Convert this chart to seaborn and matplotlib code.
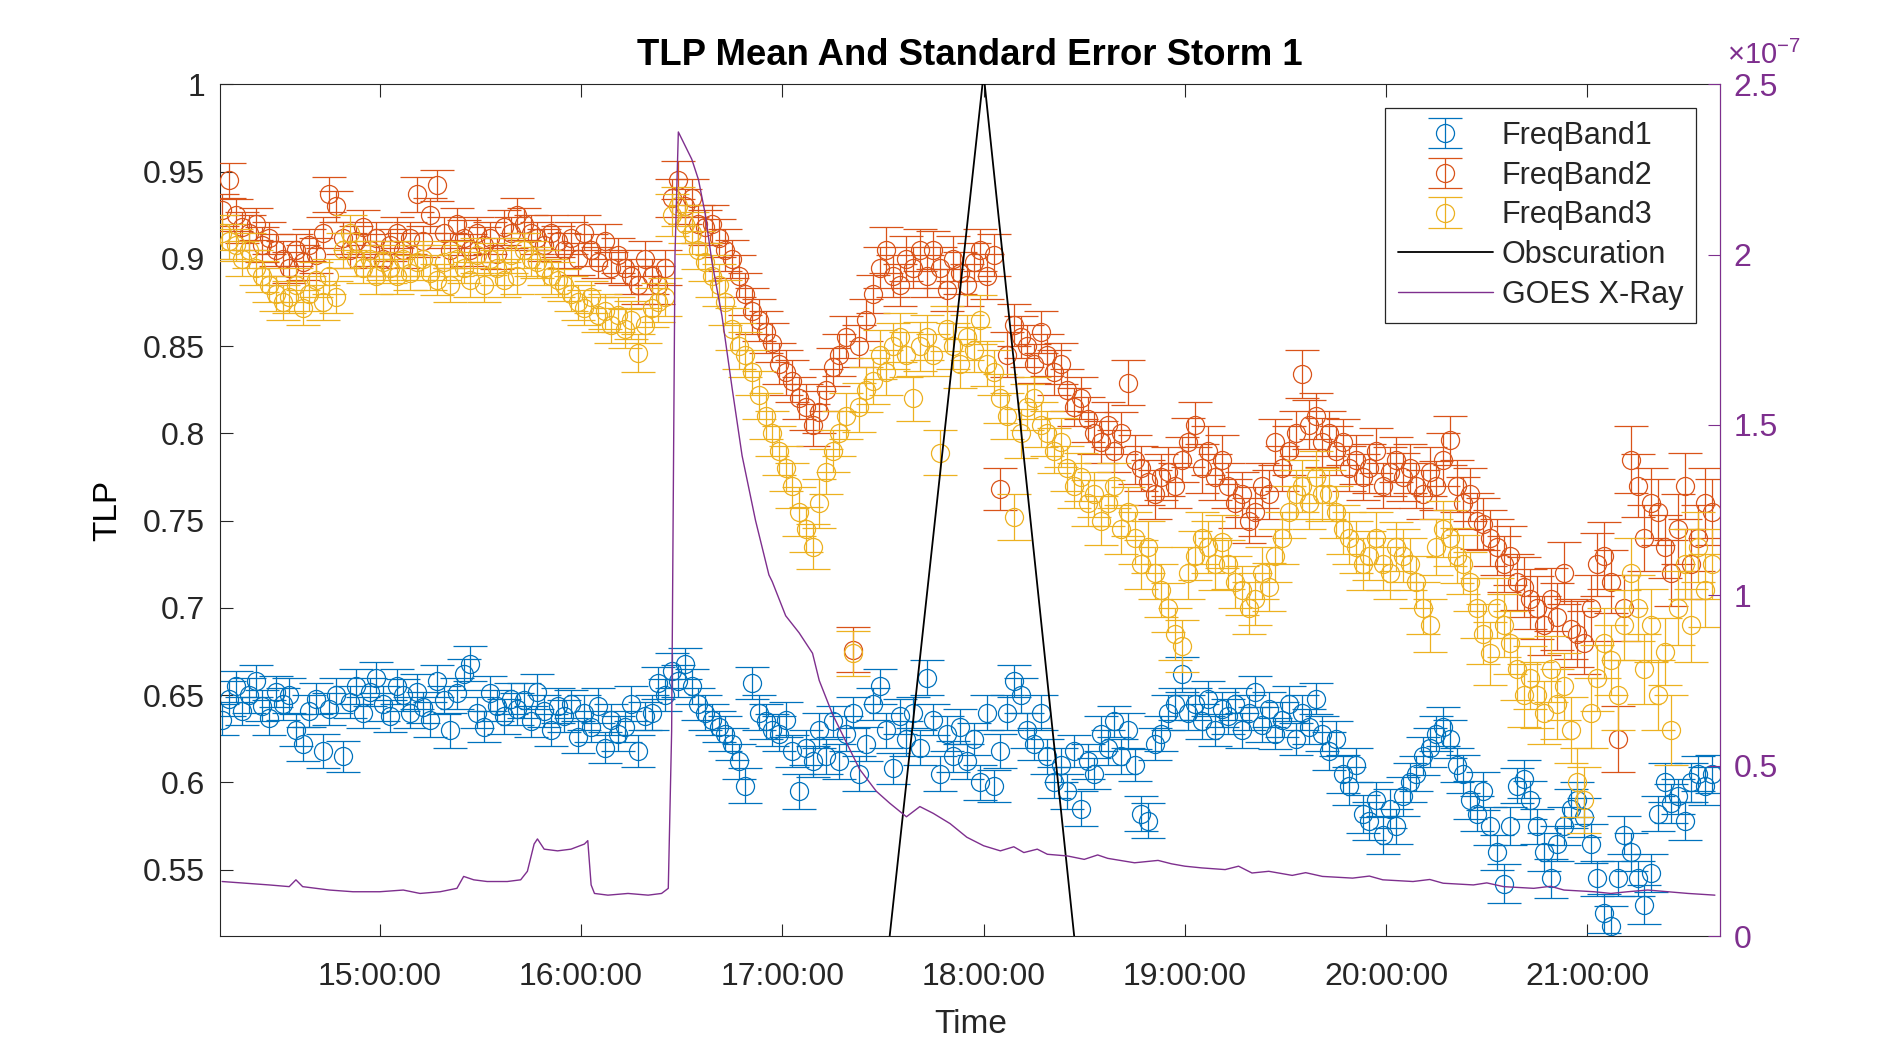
import numpy as np
import pandas as pd
import matplotlib
matplotlib.use("Agg")
import matplotlib.pyplot as plt
import matplotlib.dates as mdates
from matplotlib.ticker import FixedLocator, FuncFormatter
from matplotlib.lines import Line2D
import seaborn as sns

# ---------------- data ----------------
DAY = "2017-08-21"
START = "14:13"
STEP = "2min"

band1 = [
    0.636, 0.648, 0.655, 0.641, 0.650, 0.658, 0.644, 0.637, 0.652, 0.645, 0.650, 0.630, 0.622, 0.641, 0.648,
    0.618, 0.642, 0.650, 0.615, 0.646, 0.655, 0.640, 0.652, 0.660, 0.645, 0.638, 0.655, 0.650, 0.640, 0.652,
    0.643, 0.636, 0.658, 0.647, 0.630, 0.651, 0.662, 0.668, 0.640, 0.632, 0.651, 0.644, 0.638, 0.648, 0.642,
    0.647, 0.635, 0.652, 0.641, 0.630, 0.644, 0.638, 0.645, 0.626, 0.640, 0.632, 0.644, 0.620, 0.636, 0.628,
    0.632, 0.645, 0.618, 0.638, 0.640, 0.657, 0.650, 0.664, 0.658, 0.668, 0.655, 0.645, 0.640, 0.636, 0.632,
    0.628, 0.622, 0.612, 0.598, 0.657, 0.640, 0.635, 0.630, 0.628, 0.636, 0.618, 0.595, 0.620, 0.612, 0.630,
    0.615, 0.635, 0.612, 0.628, 0.640, 0.605, 0.622, 0.645, 0.655, 0.630, 0.608, 0.638, 0.625, 0.640, 0.620,
    0.660, 0.636, 0.605, 0.628, 0.615, 0.632, 0.612, 0.625, 0.600, 0.640, 0.598, 0.618, 0.640, 0.658, 0.650,
    0.630, 0.622, 0.640, 0.615, 0.600, 0.610, 0.595, 0.618, 0.585, 0.612, 0.605, 0.628, 0.620, 0.635, 0.615,
    0.630, 0.610, 0.582, 0.578, 0.622, 0.628, 0.640, 0.645, 0.662, 0.640, 0.645, 0.635, 0.648, 0.630, 0.642,
    0.638, 0.645, 0.630, 0.640, 0.652, 0.633, 0.642, 0.628, 0.636, 0.645, 0.625, 0.640, 0.632, 0.648, 0.628,
    0.618, 0.625, 0.605, 0.598, 0.610, 0.582, 0.578, 0.590, 0.570, 0.585, 0.575, 0.592, 0.600, 0.605, 0.615,
    0.620, 0.628, 0.632, 0.625, 0.610, 0.605, 0.590, 0.582, 0.595, 0.575, 0.560, 0.542, 0.575, 0.598, 0.602,
    0.590, 0.575, 0.560, 0.545, 0.565, 0.575, 0.585, 0.590, 0.580, 0.565, 0.545, 0.525, 0.518, 0.545, 0.570,
    0.560, 0.545, 0.530, 0.548, 0.582, 0.600, 0.588, 0.592, 0.578, 0.600, 0.605, 0.598, 0.605,
]
band2 = [
    0.928, 0.945, 0.925, 0.918, 0.915, 0.920, 0.908, 0.912, 0.905, 0.900, 0.895, 0.905, 0.898, 0.908, 0.902,
    0.915, 0.937, 0.930, 0.912, 0.905, 0.910, 0.918, 0.905, 0.912, 0.900, 0.908, 0.915, 0.905, 0.912, 0.937,
    0.910, 0.925, 0.942, 0.915, 0.905, 0.920, 0.912, 0.905, 0.915, 0.908, 0.912, 0.903, 0.918, 0.915, 0.925,
    0.920, 0.915, 0.912, 0.908, 0.915, 0.910, 0.905, 0.912, 0.900, 0.915, 0.905, 0.898, 0.910, 0.895, 0.902,
    0.895, 0.890, 0.885, 0.900, 0.890, 0.885, 0.895, 0.935, 0.945, 0.930, 0.935, 0.920, 0.918, 0.920, 0.912,
    0.905, 0.900, 0.890, 0.880, 0.870, 0.865, 0.858, 0.852, 0.840, 0.835, 0.830, 0.820, 0.815, 0.805, 0.812,
    0.825, 0.838, 0.845, 0.855, 0.676, 0.850, 0.865, 0.880, 0.895, 0.905, 0.890, 0.885, 0.900, 0.895, 0.905,
    0.890, 0.905, 0.895, 0.882, 0.900, 0.892, 0.885, 0.898, 0.905, 0.890, 0.902, 0.768, 0.845, 0.862, 0.855,
    0.850, 0.840, 0.858, 0.845, 0.835, 0.840, 0.825, 0.815, 0.820, 0.808, 0.800, 0.795, 0.805, 0.790, 0.800,
    0.829, 0.785, 0.780, 0.772, 0.765, 0.775, 0.778, 0.770, 0.785, 0.795, 0.805, 0.780, 0.790, 0.775, 0.785,
    0.770, 0.760, 0.765, 0.750, 0.755, 0.770, 0.765, 0.795, 0.780, 0.790, 0.800, 0.834, 0.805, 0.810, 0.795,
    0.800, 0.790, 0.795, 0.780, 0.785, 0.775, 0.780, 0.790, 0.770, 0.778, 0.785, 0.775, 0.780, 0.770, 0.765,
    0.778, 0.770, 0.785, 0.796, 0.770, 0.760, 0.765, 0.750, 0.748, 0.740, 0.735, 0.725, 0.730, 0.715, 0.712,
    0.705, 0.700, 0.690, 0.705, 0.695, 0.720, 0.688, 0.685, 0.680, 0.700, 0.725, 0.730, 0.715, 0.625, 0.700,
    0.785, 0.770, 0.740, 0.760, 0.755, 0.735, 0.720, 0.745, 0.770, 0.725, 0.740, 0.760, 0.755,
]
band3 = [
    0.915, 0.910, 0.908, 0.900, 0.905, 0.895, 0.890, 0.885, 0.880, 0.875, 0.878, 0.885, 0.872, 0.880, 0.888,
    0.875, 0.890, 0.878, 0.905, 0.915, 0.900, 0.895, 0.900, 0.890, 0.898, 0.895, 0.890, 0.900, 0.892, 0.898,
    0.900, 0.892, 0.888, 0.898, 0.885, 0.900, 0.895, 0.888, 0.902, 0.885, 0.900, 0.895, 0.888, 0.902, 0.890,
    0.905, 0.900, 0.898, 0.895, 0.890, 0.888, 0.885, 0.880, 0.875, 0.872, 0.878, 0.868, 0.870, 0.862, 0.868,
    0.860, 0.865, 0.846, 0.862, 0.872, 0.875, 0.878, 0.925, 0.930, 0.920, 0.915, 0.905, 0.898, 0.890, 0.885,
    0.875, 0.860, 0.850, 0.845, 0.835, 0.822, 0.810, 0.800, 0.790, 0.780, 0.770, 0.755, 0.745, 0.735, 0.760,
    0.778, 0.790, 0.800, 0.810, 0.674, 0.815, 0.825, 0.830, 0.845, 0.835, 0.850, 0.855, 0.845, 0.820, 0.850,
    0.855, 0.845, 0.789, 0.860, 0.850, 0.840, 0.855, 0.848, 0.865, 0.840, 0.835, 0.820, 0.810, 0.752, 0.800,
    0.815, 0.820, 0.805, 0.800, 0.790, 0.795, 0.780, 0.770, 0.775, 0.760, 0.765, 0.750, 0.760, 0.770, 0.745,
    0.755, 0.740, 0.725, 0.735, 0.720, 0.710, 0.700, 0.685, 0.678, 0.720, 0.730, 0.740, 0.735, 0.725, 0.738,
    0.725, 0.715, 0.710, 0.700, 0.705, 0.720, 0.712, 0.730, 0.740, 0.755, 0.765, 0.770, 0.760, 0.775, 0.765,
    0.765, 0.755, 0.745, 0.740, 0.735, 0.725, 0.730, 0.740, 0.725, 0.720, 0.735, 0.730, 0.725, 0.715, 0.700,
    0.690, 0.735, 0.745, 0.740, 0.730, 0.725, 0.715, 0.700, 0.685, 0.674, 0.700, 0.690, 0.680, 0.665, 0.650,
    0.660, 0.650, 0.640, 0.665, 0.645, 0.655, 0.630, 0.600, 0.590, 0.640, 0.660, 0.680, 0.670, 0.650, 0.690,
    0.720, 0.700, 0.665, 0.690, 0.650, 0.675, 0.630, 0.700, 0.725, 0.690, 0.735, 0.710, 0.725,
]
err1 = [
    0.009, 0.010, 0.009, 0.008, 0.010, 0.009, 0.009, 0.010, 0.009, 0.009, 0.010, 0.009, 0.010, 0.009, 0.009,
    0.010, 0.009, 0.010, 0.009, 0.009, 0.010, 0.009, 0.008, 0.009, 0.010, 0.009, 0.010, 0.009, 0.009, 0.010,
    0.009, 0.010, 0.009, 0.008, 0.010, 0.009, 0.009, 0.010, 0.009, 0.009, 0.010, 0.009, 0.010, 0.009, 0.009,
    0.010, 0.009, 0.010, 0.009, 0.009, 0.010, 0.009, 0.008, 0.009, 0.010, 0.009, 0.010, 0.009, 0.009, 0.010,
    0.009, 0.010, 0.009, 0.008, 0.010, 0.009, 0.009, 0.010, 0.009, 0.009, 0.010, 0.009, 0.010, 0.009, 0.009,
    0.010, 0.009, 0.010, 0.010, 0.009, 0.010, 0.010, 0.009, 0.010, 0.010, 0.009, 0.010, 0.010, 0.009, 0.010,
    0.010, 0.009, 0.010, 0.010, 0.009, 0.010, 0.010, 0.009, 0.010, 0.010, 0.009, 0.010, 0.010, 0.009, 0.010,
    0.010, 0.009, 0.010, 0.010, 0.009, 0.010, 0.010, 0.009, 0.010, 0.010, 0.009, 0.010, 0.010, 0.009, 0.010,
    0.010, 0.009, 0.010, 0.010, 0.009, 0.010, 0.010, 0.009, 0.010, 0.010, 0.009, 0.010, 0.010, 0.009, 0.010,
    0.010, 0.009, 0.010, 0.010, 0.009, 0.010, 0.010, 0.009, 0.010, 0.010, 0.009, 0.010, 0.010, 0.009, 0.010,
    0.010, 0.009, 0.010, 0.010, 0.009, 0.010, 0.010, 0.009, 0.010, 0.010, 0.009, 0.010, 0.010, 0.009, 0.010,
    0.011, 0.010, 0.011, 0.011, 0.010, 0.011, 0.011, 0.010, 0.011, 0.011, 0.010, 0.011, 0.011, 0.010, 0.011,
    0.011, 0.010, 0.011, 0.011, 0.010, 0.011, 0.011, 0.010, 0.011, 0.011, 0.010, 0.011, 0.011, 0.010, 0.011,
    0.011, 0.010, 0.011, 0.011, 0.010, 0.011, 0.011, 0.010, 0.011, 0.011, 0.010, 0.011, 0.011, 0.010, 0.011,
    0.011, 0.010, 0.011, 0.011, 0.010, 0.011, 0.011, 0.010, 0.011, 0.011, 0.010, 0.011, 0.011,
]
err2 = [
    0.009, 0.010, 0.009, 0.009, 0.010, 0.009, 0.010, 0.009, 0.009, 0.010, 0.009, 0.009, 0.010, 0.009, 0.010,
    0.009, 0.010, 0.009, 0.009, 0.010, 0.009, 0.010, 0.009, 0.009, 0.010, 0.009, 0.009, 0.010, 0.009, 0.010,
    0.009, 0.010, 0.009, 0.009, 0.010, 0.009, 0.010, 0.009, 0.009, 0.010, 0.009, 0.009, 0.010, 0.009, 0.010,
    0.009, 0.010, 0.009, 0.009, 0.010, 0.009, 0.010, 0.009, 0.009, 0.010, 0.009, 0.009, 0.010, 0.009, 0.010,
    0.010, 0.010, 0.011, 0.010, 0.010, 0.011, 0.010, 0.011, 0.011, 0.010, 0.011, 0.011, 0.010, 0.011, 0.011,
    0.012, 0.011, 0.012, 0.012, 0.013, 0.012, 0.012, 0.011, 0.012, 0.013, 0.012, 0.012, 0.013, 0.012, 0.012,
    0.012, 0.011, 0.012, 0.012, 0.013, 0.012, 0.012, 0.011, 0.012, 0.013, 0.012, 0.012, 0.013, 0.012, 0.012,
    0.012, 0.011, 0.012, 0.012, 0.013, 0.012, 0.012, 0.011, 0.012, 0.013, 0.012, 0.012, 0.013, 0.012, 0.012,
    0.012, 0.011, 0.012, 0.012, 0.013, 0.012, 0.012, 0.011, 0.012, 0.013, 0.012, 0.012, 0.013, 0.012, 0.012,
    0.013, 0.014, 0.013, 0.013, 0.014, 0.013, 0.014, 0.013, 0.013, 0.014, 0.013, 0.014, 0.014, 0.013, 0.014,
    0.013, 0.014, 0.013, 0.013, 0.014, 0.013, 0.014, 0.013, 0.013, 0.014, 0.013, 0.014, 0.014, 0.013, 0.014,
    0.013, 0.014, 0.013, 0.013, 0.014, 0.013, 0.014, 0.013, 0.013, 0.014, 0.013, 0.014, 0.014, 0.013, 0.014,
    0.014, 0.014, 0.015, 0.014, 0.015, 0.015, 0.015, 0.016, 0.015, 0.016, 0.016, 0.016, 0.017, 0.016, 0.017,
    0.017, 0.018, 0.017, 0.018, 0.019, 0.018, 0.017, 0.019, 0.018, 0.019, 0.018, 0.019, 0.018, 0.019, 0.019,
    0.019, 0.018, 0.019, 0.020, 0.019, 0.018, 0.019, 0.020, 0.019, 0.020, 0.019, 0.020, 0.019,
]
err3 = [
    0.010, 0.010, 0.009, 0.010, 0.010, 0.010, 0.009, 0.010, 0.010, 0.010, 0.009, 0.010, 0.010, 0.010, 0.010,
    0.010, 0.010, 0.009, 0.010, 0.010, 0.010, 0.009, 0.010, 0.010, 0.010, 0.009, 0.010, 0.010, 0.010, 0.010,
    0.010, 0.010, 0.009, 0.010, 0.010, 0.010, 0.009, 0.010, 0.010, 0.010, 0.009, 0.010, 0.010, 0.010, 0.010,
    0.010, 0.010, 0.009, 0.010, 0.010, 0.010, 0.009, 0.010, 0.010, 0.010, 0.009, 0.010, 0.010, 0.010, 0.010,
    0.011, 0.011, 0.011, 0.010, 0.011, 0.011, 0.011, 0.012, 0.011, 0.011, 0.012, 0.011, 0.011, 0.012, 0.012,
    0.013, 0.012, 0.013, 0.013, 0.013, 0.014, 0.013, 0.013, 0.014, 0.013, 0.013, 0.014, 0.013, 0.013, 0.014,
    0.013, 0.012, 0.013, 0.013, 0.013, 0.014, 0.013, 0.013, 0.014, 0.013, 0.013, 0.014, 0.013, 0.013, 0.014,
    0.013, 0.012, 0.013, 0.013, 0.013, 0.014, 0.013, 0.013, 0.014, 0.013, 0.013, 0.014, 0.013, 0.013, 0.014,
    0.013, 0.012, 0.013, 0.013, 0.013, 0.014, 0.013, 0.013, 0.014, 0.013, 0.013, 0.014, 0.013, 0.013, 0.014,
    0.014, 0.015, 0.014, 0.015, 0.015, 0.015, 0.014, 0.015, 0.015, 0.015, 0.014, 0.015, 0.015, 0.015, 0.015,
    0.014, 0.015, 0.014, 0.015, 0.015, 0.015, 0.014, 0.015, 0.015, 0.015, 0.014, 0.015, 0.015, 0.015, 0.015,
    0.014, 0.015, 0.014, 0.015, 0.015, 0.015, 0.014, 0.015, 0.015, 0.015, 0.014, 0.015, 0.015, 0.015, 0.015,
    0.015, 0.016, 0.016, 0.016, 0.016, 0.017, 0.017, 0.017, 0.017, 0.018, 0.017, 0.018, 0.018, 0.018, 0.018,
    0.018, 0.019, 0.018, 0.019, 0.020, 0.019, 0.019, 0.020, 0.019, 0.020, 0.019, 0.020, 0.020, 0.020, 0.020,
    0.020, 0.019, 0.020, 0.021, 0.020, 0.019, 0.020, 0.021, 0.020, 0.021, 0.020, 0.021, 0.020,
]

goes_times = [
    "14:13", "14:20", "14:27", "14:33", "14:35", "14:37", "14:45", "14:52",
    "15:00", "15:07", "15:12", "15:18", "15:23", "15:25", "15:28", "15:32",
    "15:38", "15:42", "15:44", "15:46", "15:47", "15:49", "15:53", "15:57",
    "16:01", "16:02", "16:03", "16:04", "16:08", "16:14", "16:20", "16:24",
    "16:26", "16:27", "16:28", "16:29", "16:30", "16:33", "16:35", "16:37",
    "16:39", "16:42", "16:45", "16:48", "16:52", "16:56", "16:57", "17:01",
    "17:05", "17:09", "17:11", "17:15", "17:19", "17:23", "17:28", "17:32",
    "17:37", "17:41", "17:45", "17:50", "17:55", "18:00", "18:05", "18:09",
    "18:12", "18:16", "18:19", "18:25", "18:30", "18:34", "18:37", "18:45",
    "18:52", "18:56", "19:00", "19:05", "19:12", "19:16", "19:20", "19:25",
    "19:32", "19:36", "19:41", "19:50", "19:55", "19:59", "20:08", "20:13",
    "20:17", "20:26", "20:30", "20:35", "20:44", "20:49", "20:53", "21:02",
    "21:07", "21:12", "21:18", "21:24", "21:30", "21:38",
]
goes_vals = [  # x 1e-7
    0.160, 0.155, 0.150, 0.145, 0.165, 0.145, 0.135, 0.130,
    0.130, 0.135, 0.125, 0.130, 0.140, 0.175, 0.165, 0.160,
    0.160, 0.165, 0.190, 0.270, 0.285, 0.255, 0.250, 0.255,
    0.270, 0.280, 0.150, 0.125, 0.120, 0.125, 0.120, 0.125,
    0.140, 0.600, 2.000, 2.360, 2.340, 2.280, 2.220, 2.120,
    1.980, 1.820, 1.610, 1.410, 1.220, 1.060, 1.040, 0.940,
    0.890, 0.830, 0.750, 0.650, 0.570, 0.490, 0.425, 0.390,
    0.350, 0.380, 0.360, 0.330, 0.290, 0.265, 0.250, 0.262,
    0.245, 0.255, 0.240, 0.235, 0.225, 0.238, 0.228, 0.215,
    0.222, 0.212, 0.205, 0.200, 0.195, 0.205, 0.185, 0.190,
    0.178, 0.186, 0.175, 0.170, 0.176, 0.165, 0.160, 0.166,
    0.155, 0.150, 0.156, 0.145, 0.140, 0.146, 0.135, 0.130,
    0.125, 0.130, 0.135, 0.130, 0.125, 0.120,
]

obsc_times = ["17:32", "18:00", "18:27"]
obsc_vals = [0.0, 2.53, 0.0]   # drawn on the right axis scale

left_ticks = [0.55, 0.6, 0.65, 0.7, 0.75, 0.8, 0.85, 0.9, 0.95, 1.0]
right_ticks = [0, 0.5, 1, 1.5, 2, 2.5]
hour_ticks = ["15:00", "16:00", "17:00", "18:00", "19:00", "20:00", "21:00"]
x_limits = ["14:12:30", "21:39:30"]

labels = ["FreqBand1", "FreqBand2", "FreqBand3", "Obscuration", "GOES X-Ray"]
colors = ["#0072BD", "#D95319", "#EDB120", "#000000", "#7E2F8E"]

# ---------------- build frames ----------------
t_band = pd.date_range(f"{DAY} {START}", periods=len(band1), freq=STEP)
bands = pd.DataFrame({"time": t_band, "b1": band1, "b2": band2, "b3": band3,
                      "e1": err1, "e2": err2, "e3": err3})
goes = pd.DataFrame({"time": pd.to_datetime([f"{DAY} {t}" for t in goes_times]),
                     "val": goes_vals})
obsc = pd.DataFrame({"time": pd.to_datetime([f"{DAY} {t}" for t in obsc_times]),
                     "val": obsc_vals})

# ---------------- style ----------------
sns.set_theme(style="white")
plt.rcParams["font.family"] = ["Liberation Sans", "DejaVu Sans"]
plt.rcParams["mathtext.fontset"] = "custom"
plt.rcParams["mathtext.rm"] = "Liberation Sans"
plt.rcParams["mathtext.it"] = "Liberation Sans"
plt.rcParams["mathtext.bf"] = "Liberation Sans:bold"

AXC = "#262626"
PURPLE = colors[4]
TICK_FS = 23

fig = plt.figure(figsize=(18.89, 10.39), dpi=100)
ax = fig.add_axes([0.1167, 0.0991, 0.7938, 0.8198])

handles = []
for k, (col, ecol) in enumerate([("b1", "e1"), ("b2", "e2"), ("b3", "e3")]):
    h = ax.errorbar(bands["time"], bands[col], yerr=bands[ecol], fmt="o",
                    ms=13, mfc="none", mec=colors[k], mew=0.9,
                    ecolor=colors[k], elinewidth=0.9, capsize=12, capthick=0.9,
                    label=labels[k], zorder=2 + k)
    handles.append(h)

ax.set_ylim(0.512, 1.0)
ax.set_xlim(pd.to_datetime(f"{DAY} {x_limits[0]}"), pd.to_datetime(f"{DAY} {x_limits[1]}"))
ax.yaxis.set_major_locator(FixedLocator(left_ticks))
ax.yaxis.set_major_formatter(FuncFormatter(lambda v, p: f"{v:g}"))
ax.xaxis.set_major_locator(FixedLocator(
    mdates.date2num(pd.to_datetime([f"{DAY} {h}" for h in hour_ticks]))))
ax.xaxis.set_major_formatter(mdates.DateFormatter("%H:%M:%S"))
ax.tick_params(axis="both", direction="in", length=9, width=0.8, colors=AXC,
               labelsize=TICK_FS, top=True, bottom=True, left=True, right=False)
ax.tick_params(axis="y", pad=11)
ax.tick_params(axis="x", pad=19)
for s in ax.spines.values():
    s.set_color(AXC)
    s.set_linewidth(0.8)
ax.set_ylabel("TLP", fontsize=24, color="black", labelpad=14)
ax.set_xlabel("Time", fontsize=24, color=AXC, labelpad=12)
ax.set_title("TLP Mean And Standard Error Storm 1", fontsize=26.3,
             fontweight="bold", color="black", pad=14)
ax.grid(False)

# right axis
ax2 = ax.twinx()
sns.lineplot(data=obsc, x="time", y="val", ax=ax2, color=colors[3],
             linewidth=1.3, legend=False, zorder=3)
sns.lineplot(data=goes, x="time", y="val", ax=ax2, color=PURPLE,
             linewidth=1.0, legend=False, zorder=4)
ax2.set_ylim(0, 2.5)
ax2.yaxis.set_major_locator(FixedLocator(right_ticks))
ax2.yaxis.set_major_formatter(FuncFormatter(lambda v, p: f"{v:g}"))
ax2.tick_params(axis="y", direction="in", length=9, width=0.8, colors=PURPLE,
                labelsize=TICK_FS, pad=10)
ax2.set_ylabel("")
ax2.set_xlabel("")
for s in ax2.spines.values():
    s.set_visible(False)
ax2.spines["right"].set_visible(True)
ax2.spines["right"].set_color(PURPLE)
ax2.spines["right"].set_linewidth(0.8)
ax2.grid(False)

fig.text(1727 / 1889, 1 - 70 / 1039, r"$\times10^{-7}$", color=PURPLE,
         fontsize=21, ha="left", va="bottom")

handles.append(Line2D([], [], color=colors[3], lw=1.3))
handles.append(Line2D([], [], color=PURPLE, lw=1.0))
leg = ax2.legend(handles, labels, loc="upper right",
                 bbox_to_anchor=(1696 / 1889, 1 - 108 / 1039),
                 bbox_transform=fig.transFigure, borderaxespad=0,
                 fontsize=22, frameon=True, fancybox=False, framealpha=1,
                 edgecolor=AXC, handlelength=3.1, handletextpad=0.3,
                 labelspacing=0.32, borderpad=0.42)
leg.get_frame().set_linewidth(0.9)
for t in leg.get_texts():
    t.set_color(AXC)

fig.savefig("out.png", dpi=100, facecolor="white")
